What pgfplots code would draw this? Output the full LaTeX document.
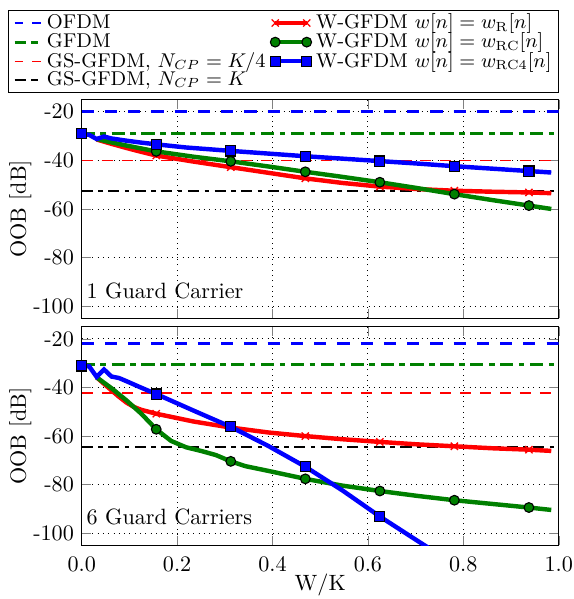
\documentclass[border=0pt]{standalone}
\usepackage{pgfplots}
\pgfplotsset{compat=1.18}
\definecolor{mgreen}{rgb}{0,0.5,0}

\pgfplotsset{
  oobaxis/.style={
    scale only axis, width=215.5pt, height=98.8pt,
    xmin=0, xmax=1, ymin=-105, ymax=-15,
    xtick={0,0.2,0.4,0.6,0.8,1},
    ytick={-100,-80,-60,-40,-20},
    yticklabels={-100,-80,-60,-40,-20},
    grid=major,
    major grid style={black, dotted, line width=0.4pt},
    tick align=inside,
    ylabel={OOB [dB]},
    ylabel style={yshift=-6pt},
    axis line style={line width=0.5pt},
  },
  markimg/.style={legend image code/.code={\draw[##1, mark indices={1,2}] plot coordinates {(0cm,0cm) (0.5cm,0cm)};}},
  ofdm/.style={blue, line width=1.3pt, dash pattern=on 5.5pt off 5pt,
    legend image code/.code={\draw[##1, dash pattern=on 4pt off 4pt] (0cm,0cm) -- (12pt,0cm);}},
  gfdm/.style={mgreen, line width=1.3pt, dash pattern=on 6pt off 2.5pt on 2.5pt off 2.5pt,
    legend image code/.code={\draw[##1, dash pattern=on 5pt off 2.5pt on 3pt off 2.5pt] (0cm,0cm) -- (12pt,0cm);}},
  gsq/.style={red, line width=0.7pt, dash pattern=on 5pt off 4pt,
    legend image code/.code={\draw[##1, dash pattern=on 4pt off 4pt] (0cm,0cm) -- (12pt,0cm);}},
  gsk/.style={black, line width=0.9pt, dash pattern=on 5pt off 2.5pt on 2pt off 2.5pt,
    legend image code/.code={\draw[##1, dash pattern=on 5pt off 2.5pt on 3pt off 2.5pt] (0cm,0cm) -- (12pt,0cm);}},
  wr/.style={red, line width=2pt, mark=x, mark size=2.3pt, mark options={solid, red, line width=0.6pt}, markimg},
  wrc/.style={mgreen, line width=2pt, mark=*, mark size=2.2pt, mark options={solid, fill=mgreen, draw=black, line width=0.5pt}, markimg},
  wrc4/.style={blue, line width=2pt, mark=square*, mark size=2.3pt, mark options={solid, fill=blue, draw=black, line width=0.5pt}, markimg},
}

% 1 guard carrier
\pgfplotstableread{
x y
0.03125 -31.4
0.0625 -33.2
0.09375 -34.9
0.125 -36.5
0.15625 -38.0
0.234375 -40.5
0.3125 -42.8
0.390625 -45.1
0.46875 -47.4
0.546875 -49.3
0.625 -50.8
0.703125 -51.8
0.78125 -52.5
0.859375 -52.9
0.9375 -53.2
0.984375 -53.5
}\topR
\pgfplotstableread{
x y
0.03125 -31.2
0.0625 -32.6
0.09375 -33.9
0.125 -35.1
0.15625 -36.3
0.234375 -38.5
0.3125 -40.4
0.390625 -42.5
0.46875 -44.7
0.546875 -46.8
0.625 -49.0
0.703125 -51.4
0.78125 -53.9
0.859375 -56.3
0.9375 -58.6
0.984375 -60.0
}\topRC
\pgfplotstableread{
x y
0 -29.0
0.015625 -29.5
0.03125 -31.2
0.046875 -30.2
0.0625 -31.0
0.09375 -31.9
0.125 -32.7
0.15625 -33.4
0.21875 -34.7
0.3125 -36.1
0.390625 -37.2
0.46875 -38.3
0.546875 -39.3
0.625 -40.3
0.703125 -41.3
0.78125 -42.4
0.859375 -43.4
0.9375 -44.4
0.984375 -45.0
}\topRCfour

% 6 guard carriers
\pgfplotstableread{
x y
0.03125 -35.8
0.046875 -38.5
0.0625 -41.2
0.078125 -43.8
0.09375 -46.2
0.109375 -48.0
0.125 -49.2
0.15625 -50.8
0.234375 -54.0
0.3125 -56.5
0.390625 -58.5
0.46875 -60.0
0.546875 -61.3
0.625 -62.4
0.703125 -63.4
0.78125 -64.2
0.859375 -65.0
0.9375 -65.6
0.984375 -66.1
}\botR
\pgfplotstableread{
x y
0.03125 -35.8
0.0625 -40.3
0.09375 -45.3
0.125 -50.8
0.15625 -57.2
0.1875 -62.0
0.21875 -64.6
0.25 -66.1
0.28125 -67.8
0.3125 -70.4
0.34375 -72.4
0.390625 -74.3
0.46875 -77.6
0.546875 -80.4
0.625 -82.6
0.703125 -84.6
0.78125 -86.4
0.859375 -87.9
0.9375 -89.4
0.984375 -90.4
}\botRC
\pgfplotstableread{
x y
0 -31.1
0.015625 -31.3
0.03125 -35.6
0.046875 -32.6
0.0625 -35.5
0.078125 -36.1
0.09375 -37.4
0.125 -40.1
0.15625 -42.7
0.234375 -49.5
0.3125 -56.2
0.390625 -64.0
0.46875 -72.6
0.546875 -82.4
0.625 -93.1
0.703125 -103.0
0.78125 -112.8
}\botRCfour

\begin{document}
\begin{tikzpicture}
\begin{axis}[oobaxis, name=top,
  xticklabels={},
  legend columns=4, transpose legend,
  legend style={at={(rel axis cs:1,1)}, anchor=south east, yshift=3pt,
    draw=black, line width=0.5pt, inner xsep=2pt, inner ysep=1.5pt,
    font=\small, row sep=0pt, column sep=1pt,
    nodes={inner xsep=1pt, inner ysep=0.2pt}},
  legend cell align=left,
]
\addplot[ofdm] coordinates {(0,-20) (1,-20)};
\addlegendentry{OFDM}
\addplot[gfdm] coordinates {(0,-28.8) (1,-28.8)};
\addlegendentry{GFDM}
\addplot[gsq] coordinates {(0,-40) (1,-40)};
\addlegendentry{GS-GFDM, $N_{CP}=K/4$}
\addplot[gsk] coordinates {(0,-52.7) (1,-52.7)};
\addlegendentry{GS-GFDM, $N_{CP}=K$}
\addplot[wr, mark indices={5,7,9,11,13,15}] table {\topR};
\addlegendentry{W-GFDM $w[n]=w_{\mathrm{R}}[n]$}
\addplot[wrc, mark indices={5,7,9,11,13,15}] table {\topRC};
\addlegendentry{W-GFDM $w[n]=w_{\mathrm{RC}}[n]$}
\addplot[wrc4, mark indices={1,8,10,12,14,16,18}] table {\topRCfour};
\addlegendentry{W-GFDM $w[n]=w_{\mathrm{RC4}}[n]$}
\addlegendimage{empty legend}
\addlegendentry{}
\node[anchor=west, inner sep=1pt] at (rel axis cs:0.005,0.125) {1 Guard Carrier};
\end{axis}

\begin{axis}[oobaxis, name=bot, at={(top.south west)}, anchor=north west, yshift=-3.8pt,
  xticklabels={0.0,0.2,0.4,0.6,0.8,1.0},
  xticklabel style={yshift=-1.5pt},
  xlabel={W/K}, xlabel style={yshift=3.5pt, inner ysep=1pt},
]
\addplot[ofdm] coordinates {(0,-22.0) (1,-22.0)};
\addplot[gfdm] coordinates {(0,-30.7) (1,-30.7)};
\addplot[gsq] coordinates {(0,-42.2) (1,-42.2)};
\addplot[gsk] coordinates {(0,-64.6) (1,-64.6)};
\addplot[wr, mark indices={8,10,12,14,16,18}] table {\botR};
\addplot[wrc, mark indices={5,10,13,15,17,19}] table {\botRC};
\addplot[wrc4, mark indices={1,9,11,13,15}] table {\botRCfour};
\node[anchor=west, inner sep=1pt] at (rel axis cs:0.005,0.128) {6 Guard Carriers};
\end{axis}
% fixed frame round both panels and the legend
\pgfresetboundingbox
\path ([xshift=-36.9pt,yshift=45pt]top.north west)
      rectangle ([xshift=6.7pt,yshift=-24.2pt]bot.south east);
\end{tikzpicture}
\end{document}
